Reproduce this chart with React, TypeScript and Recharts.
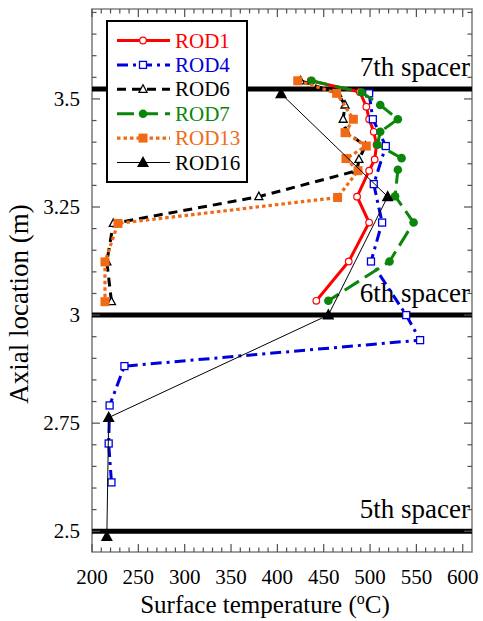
import { ScatterChart, Scatter, XAxis, YAxis, ReferenceLine, ReferenceArea } from "recharts";

// axial location (m) and surface temperature (C) per rod
const rod1Z = [3.542, 3.516, 3.482, 3.453, 3.424, 3.394, 3.36, 3.334, 3.274, 3.214, 3.124, 3.033];
const rod1T = [436, 489, 496, 499, 504, 507, 505, 499, 486, 499, 477, 442];

const rod4Z = [3.513, 3.453, 3.391, 3.303, 3.214, 3.124, 3.0, 2.942, 2.882, 2.791, 2.703, 2.613];
const rod4T = [499, 503, 517, 504, 513, 501, 539, 554, 235, 219, 218, 221];

const rod6Z = [3.542, 3.513, 3.486, 3.453, 3.424, 3.391, 3.36, 3.334, 3.274, 3.212, 3.123, 3.031];
const rod6T = [425, 465, 473, 471, 474, 495, 488, 486, 380, 223, 216, 221];

const rod7Z = [3.542, 3.515, 3.486, 3.453, 3.424, 3.394, 3.363, 3.336, 3.275, 3.214, 3.124, 3.033];
const rod7T = [437, 491, 511, 530, 511, 508, 534, 530, 527, 547, 521, 455];

const rod13Z = [3.542, 3.513, 3.453, 3.422, 3.391, 3.362, 3.334, 3.272, 3.212, 3.123, 3.031];
const rod13T = [422, 464, 482, 473, 496, 474, 487, 465, 228, 214, 214];

const rod16Z = [3.512, 3.274, 3.0, 2.763, 2.488];
const rod16T = [404, 519, 455, 218, 216];

const spacerZ = [2.5, 3.0, 3.523];
const spacerNames = ["5th spacer", "6th spacer", "7th spacer"];

const xMajorTicks = [200, 250, 300, 350, 400, 450, 500, 550, 600];
const yMajorTicks = [2.5, 2.75, 3, 3.25, 3.5];

const xTicks: number[] = [];
for (let t = 200; t <= 600; t += 10) xTicks.push(t);
const yTicks: number[] = [];
for (let k = 50; k <= 74; k++) yTicks.push(k / 20);

const W = 483;
const H = 621;
const MARGIN = { top: 9, right: 11, left: 0, bottom: 0 };
const Y_AXIS_W = 92;
const X_AXIS_H = 69;
const PLOT_TOP = MARGIN.top;
const PLOT_RIGHT = W - MARGIN.right;
const FONT = "Liberation Serif, DejaVu Serif, serif";
const TICK = "#505050";

const toPoints = (ts: number[], zs: number[]) => ts.map((T, i) => ({ T, z: zs[i] }));

type MarkerKind = "openCircle" | "openSquare" | "openTri" | "dot" | "square" | "tri";

function marker(kind: MarkerKind, cx: number, cy: number, c: string) {
  switch (kind) {
    case "openCircle":
      return <circle cx={cx} cy={cy} r={3.3} fill="#fff" stroke={c} strokeWidth={1.2} />;
    case "openSquare":
      return <rect x={cx - 3.5} y={cy - 3.5} width={7} height={7} fill="#fff" stroke={c} strokeWidth={1.3} />;
    case "openTri":
      return (
        <polygon
          points={`${cx},${cy - 4.5} ${cx + 4},${cy + 3} ${cx - 4},${cy + 3}`}
          fill="#fff"
          stroke={c}
          strokeWidth={1.3}
        />
      );
    case "dot":
      return <circle cx={cx} cy={cy} r={4.3} fill={c} />;
    case "square":
      return <rect x={cx - 4.5} y={cy - 4.5} width={9} height={9} fill={c} />;
    case "tri":
      return <polygon points={`${cx},${cy - 6.5} ${cx + 6},${cy + 4.5} ${cx - 6},${cy + 4.5}`} fill={c} />;
  }
}

const series = [
  { name: "ROD1", data: toPoints(rod1T, rod1Z), color: "#ff0000", width: 3, dash: undefined, mk: "openCircle" as MarkerKind },
  { name: "ROD4", data: toPoints(rod4T, rod4Z), color: "#0000dd", width: 3, dash: "11 5 3 5", mk: "openSquare" as MarkerKind },
  { name: "ROD6", data: toPoints(rod6T, rod6Z), color: "#000000", width: 3, dash: "9 6", mk: "openTri" as MarkerKind },
  { name: "ROD7", data: toPoints(rod7T, rod7Z), color: "#0a870a", width: 3, dash: "17 7", mk: "dot" as MarkerKind },
  { name: "ROD13", data: toPoints(rod13T, rod13Z), color: "#f06a16", width: 3.2, dash: "3.5 3", mk: "square" as MarkerKind },
  { name: "ROD16", data: toPoints(rod16T, rod16Z), color: "#000000", width: 1, dash: undefined, mk: "tri" as MarkerKind },
];

const textStyle = { fontFamily: FONT };

const XTick = (props: any) => {
  const { x, y, payload } = props;
  const major = xMajorTicks.includes(payload.value);
  const len = major ? 8 : 4.5;
  return (
    <g>
      <line x1={x} x2={x} y1={y} y2={y - len} stroke={TICK} strokeWidth={1.2} />
      <line x1={x} x2={x} y1={PLOT_TOP} y2={PLOT_TOP + len} stroke={TICK} strokeWidth={1.2} />
      {major && (
        <text x={x} y={y + 32} textAnchor="middle" fontSize={21} style={textStyle} fill="#000">
          {payload.value}
        </text>
      )}
    </g>
  );
};

const YTick = (props: any) => {
  const { x, y, payload } = props;
  const v = payload.value;
  const major = yMajorTicks.some((t) => Math.abs(t - v) < 1e-6);
  const len = major ? 8 : 4.5;
  return (
    <g>
      <line x1={x} x2={x + len} y1={y} y2={y} stroke={TICK} strokeWidth={1.2} />
      <line x1={PLOT_RIGHT - len} x2={PLOT_RIGHT} y1={y} y2={y} stroke={TICK} strokeWidth={1.2} />
      {major && (
        <text x={x - 12} y={y} textAnchor="end" dominantBaseline="central" fontSize={21} style={textStyle} fill="#000">
          {String(v)}
        </text>
      )}
    </g>
  );
};

function Legend() {
  const rowY = (i: number) => 40.5 + i * 24.4;
  return (
    <svg width={W} height={H} style={{ position: "absolute", left: 0, top: 0, pointerEvents: "none" }}>
      <rect x={107} y={21} width={140} height={161} fill="#fff" stroke="#000" strokeWidth={2} />
      {series.map((s, i) => (
        <g key={s.name}>
          <line
            x1={117}
            x2={170}
            y1={rowY(i)}
            y2={rowY(i)}
            stroke={s.color}
            strokeWidth={s.width}
            strokeDasharray={s.dash}
          />
          {marker(s.mk, 143, rowY(i), s.color)}
          <text x={175} y={rowY(i)} dominantBaseline="central" fontSize={21} style={textStyle} fill={s.color}>
            {s.name}
          </text>
        </g>
      ))}
    </svg>
  );
}

export default function App() {
  return (
    <div style={{ position: "absolute", left: 0, top: 0, width: W, height: H, background: "#fff", fontFamily: FONT }}>
      <ScatterChart width={W} height={H} margin={MARGIN}>
        <XAxis
          type="number"
          dataKey="T"
          domain={[200, 610]}
          ticks={xTicks}
          interval={0}
          allowDataOverflow
          height={X_AXIS_H}
          tickSize={0}
          tickMargin={0}
          tickLine={false}
          axisLine={false}
          tick={<XTick />}
          label={() => (
            <text x={265} y={613} textAnchor="middle" fontSize={25} style={textStyle} fill="#000">
              Surface temperature (
              <tspan fontSize={16} dy={-9}>o</tspan>
              <tspan dy={9}>C)</tspan>
            </text>
          )}
        />
        <YAxis
          type="number"
          dataKey="z"
          domain={[2.452, 3.708]}
          ticks={yTicks}
          interval={0}
          allowDataOverflow
          width={Y_AXIS_W}
          tickSize={0}
          tickMargin={0}
          tickLine={false}
          axisLine={false}
          tick={<YTick />}
          label={() => (
            <text
              x={28}
              y={304}
              transform="rotate(-90 28 304)"
              textAnchor="middle"
              fontSize={27}
              style={textStyle}
              fill="#000"
            >
              Axial location (m)
            </text>
          )}
        />
        <ReferenceArea x1={200} x2={610} y1={2.452} y2={3.708} fill="none" stroke="#808080" strokeWidth={1.6} />
        {spacerZ.map((z, i) => (
          <ReferenceLine
            key={spacerNames[i]}
            y={z}
            stroke="#000"
            strokeWidth={5}
            label={(p: any) => (
              <text
                x={p.viewBox.x + p.viewBox.width - 2}
                y={p.viewBox.y - 13}
                textAnchor="end"
                fontSize={27}
                style={textStyle}
                fill="#000"
              >
                {spacerNames[i]}
              </text>
            )}
          />
        ))}
        {series.map((s) => (
          <Scatter
            key={s.name}
            name={s.name}
            data={s.data}
            fill={s.color}
            isAnimationActive={false}
            lineType="joint"
            line={{ stroke: s.color, strokeWidth: s.width, strokeDasharray: s.dash }}
            shape={(p: any) => marker(s.mk, p.cx, p.cy, s.color)}
          />
        ))}
      </ScatterChart>
      <Legend />
    </div>
  );
}
